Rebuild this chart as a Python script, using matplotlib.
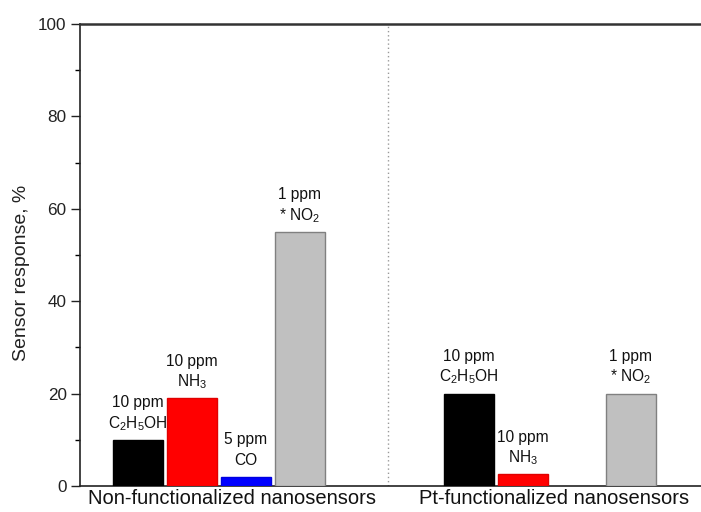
import matplotlib
matplotlib.use("Agg")
import matplotlib.pyplot as plt
from matplotlib.ticker import MultipleLocator

plt.rcParams['font.family'] = ['Liberation Sans', 'DejaVu Sans']
plt.rcParams['mathtext.fontset'] = 'custom'
plt.rcParams['mathtext.rm'] = 'Liberation Sans'
plt.rcParams['mathtext.it'] = 'Liberation Sans:italic'

# data
groups = ["Non-functionalized nanosensors", "Pt-functionalized nanosensors"]
values = [10, 19, 2, 55, 20, 2.5, 20]
conc_labels = ["10 ppm", "10 ppm", "5 ppm", "1 ppm", "10 ppm", "10 ppm", "1 ppm"]
gas_labels = [r"$\mathrm{C_2H_5OH}$", r"$\mathrm{NH_3}$", "CO", r"* $\mathrm{NO_2}$",
              r"$\mathrm{C_2H_5OH}$", r"$\mathrm{NH_3}$", r"* $\mathrm{NO_2}$"]
fill_colors = ["#000000", "#ff0000", "#0000ff", "#c0c0c0", "#000000", "#ff0000", "#c0c0c0"]
edge_colors = ["#000000", "#e00000", "#0000e0", "#808080", "#000000", "#e00000", "#808080"]

# layout
positions = [0, 1, 2, 3, 6.13, 7.13, 9.13]
group_centers = [1.74, 7.70]
divider = 4.63
bar_width = 0.92

fig = plt.figure(figsize=(7.01, 5.12), dpi=100)
ax = fig.add_axes([0.114, 0.0508, 0.886, 0.9023])

ax.bar(positions, values, width=bar_width, color=fill_colors, edgecolor=edge_colors,
       linewidth=1.0, zorder=3)

for x, v, c, g in zip(positions, values, conc_labels, gas_labels):
    ax.annotate(g, (x, v), xytext=(0, 8.6), textcoords='offset points',
                ha='center', va='baseline', fontsize=11.2, color='#111111')
    ax.annotate(c, (x, v), xytext=(0, 23.5), textcoords='offset points',
                ha='center', va='baseline', fontsize=11.2, color='#111111')

ax.axvline(divider, color='#999999', linestyle=(0, (1, 2)), linewidth=1.0, zorder=1)

ax.set_xlim(-1.074, 10.43)
ax.set_ylim(0, 100)
ax.set_xticks(group_centers)
ax.set_xticklabels(groups, fontsize=14.5, color='#111111')
ax.tick_params(axis='x', length=0, pad=2)

ax.yaxis.set_major_locator(MultipleLocator(20))
ax.yaxis.set_minor_locator(MultipleLocator(10))
ax.tick_params(axis='y', which='major', direction='out', length=6.5, width=1.0,
               labelsize=12.3, colors='#222222', pad=3)
ax.tick_params(axis='y', which='minor', direction='out', length=3.5, width=1.0)

ax.set_ylabel("Sensor response, %", fontsize=14, color='#222222')
ax.yaxis.set_label_coords(-0.081, 0.461)

ax.spines['right'].set_visible(False)
ax.spines['top'].set_linewidth(1.8)
ax.spines['top'].set_color('#333333')
ax.spines['left'].set_linewidth(1.2)
ax.spines['left'].set_color('#222222')
ax.spines['bottom'].set_linewidth(1.2)
ax.spines['bottom'].set_color('#222222')

fig.savefig("out.png", dpi=100)
